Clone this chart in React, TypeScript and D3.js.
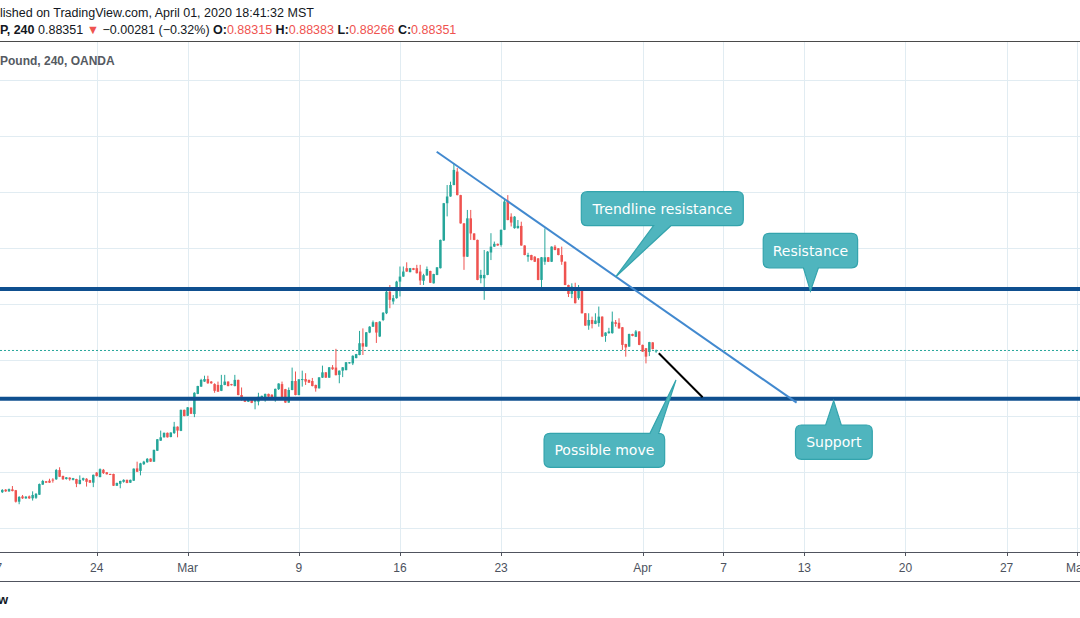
import React from "react";
import * as d3 from "d3";

// ---- Data (EUR/GBP 4h candles) ----
const opens = [
  0.8329, 0.8338, 0.8332, 0.8339, 0.8336, 0.8295, 0.8314, 0.8307, 0.8314, 0.8307,
  0.8309, 0.8320, 0.8356, 0.8368, 0.8370, 0.8374, 0.8375, 0.8408, 0.8387, 0.8376,
  0.8381, 0.8373, 0.8376, 0.8358, 0.8373, 0.8377, 0.8372, 0.8363, 0.8399, 0.8383,
  0.8409, 0.8400, 0.8394, 0.8394, 0.8352, 0.8359, 0.8366, 0.8373, 0.8363, 0.8370,
  0.8414, 0.8405, 0.8429, 0.8436, 0.8449, 0.8438, 0.8477, 0.8513, 0.8525, 0.8541,
  0.8526, 0.8540, 0.8563, 0.8548, 0.8623, 0.8602, 0.8631, 0.8608, 0.8680, 0.8706,
  0.8724, 0.8733, 0.8724, 0.8715, 0.8712, 0.8691, 0.8712, 0.8724, 0.8715, 0.8708,
  0.8730, 0.8676, 0.8667, 0.8652, 0.8662, 0.8652, 0.8652, 0.8662, 0.8668, 0.8680,
  0.8677, 0.8669, 0.8697, 0.8715, 0.8697, 0.8649, 0.8694, 0.8726, 0.8676, 0.8730,
  0.8733, 0.8730, 0.8726, 0.8712, 0.8700, 0.8738, 0.8757, 0.8738, 0.8775, 0.8774,
  0.8748, 0.8763, 0.8765, 0.8789, 0.8789, 0.8808, 0.8819, 0.8861, 0.8849, 0.8899,
  0.8920, 0.8936, 0.8885, 0.8944, 0.8968, 0.9045, 0.9010, 0.9022, 0.9081, 0.9099,
  0.9129, 0.9115, 0.9129, 0.9129, 0.9117, 0.9084, 0.9103, 0.9119, 0.9075, 0.9105,
  0.9129, 0.9228, 0.9361, 0.9385, 0.9426, 0.9474, 0.9390, 0.9289, 0.9170, 0.9307,
  0.9253, 0.9230, 0.9093, 0.9093, 0.9105, 0.9185, 0.9206, 0.9216, 0.9212, 0.9266,
  0.9370, 0.9313, 0.9272, 0.9272, 0.9280, 0.9210, 0.9170, 0.9176, 0.9170, 0.9164,
  0.9087, 0.9152, 0.9168, 0.9152, 0.9206, 0.9200, 0.9176, 0.9152, 0.9069, 0.9037,
  0.9057, 0.9022, 0.9055, 0.8968, 0.8924, 0.8944, 0.8930, 0.8933, 0.8956, 0.8887,
  0.8897, 0.8897, 0.8936, 0.8934, 0.8918, 0.8858, 0.8849, 0.8894, 0.8884, 0.8903,
  0.8855, 0.8843, 0.8830, 0.8864, 0.88315,
];
const highs = [
  0.8340, 0.8340, 0.8342, 0.8351, 0.8337, 0.8315, 0.8319, 0.8315, 0.8317, 0.8332,
  0.8326, 0.8360, 0.8373, 0.8369, 0.8377, 0.8379, 0.8412, 0.8418, 0.8388, 0.8383,
  0.8382, 0.8380, 0.8377, 0.8389, 0.8381, 0.8379, 0.8373, 0.8392, 0.8401, 0.8414,
  0.8412, 0.8401, 0.8395, 0.8395, 0.8363, 0.8370, 0.8375, 0.8374, 0.8374, 0.8414,
  0.8438, 0.8434, 0.8441, 0.8451, 0.8450, 0.8481, 0.8519, 0.8549, 0.8542, 0.8542,
  0.8543, 0.8580, 0.8564, 0.8624, 0.8624, 0.8633, 0.8632, 0.8686, 0.8709, 0.8734,
  0.8745, 0.8745, 0.8726, 0.8718, 0.8724, 0.8748, 0.8748, 0.8725, 0.8716, 0.8748,
  0.8731, 0.8703, 0.8668, 0.8663, 0.8663, 0.8661, 0.8684, 0.8674, 0.8681, 0.8681,
  0.8679, 0.8699, 0.8718, 0.8724, 0.8698, 0.8703, 0.8774, 0.8760, 0.8733, 0.8763,
  0.8754, 0.8731, 0.8737, 0.8713, 0.8740, 0.8781, 0.8758, 0.8776, 0.8783, 0.8841,
  0.8764, 0.8776, 0.8794, 0.8794, 0.8818, 0.8823, 0.8905, 0.8914, 0.8901, 0.8922,
  0.8942, 0.8937, 0.8940, 0.8972, 0.9048, 0.9069, 0.9033, 0.9084, 0.9135, 0.9135,
  0.9150, 0.9130, 0.9130, 0.9141, 0.9141, 0.9109, 0.9135, 0.9120, 0.9109, 0.9133,
  0.9231, 0.9362, 0.9426, 0.9438, 0.9504, 0.9487, 0.9391, 0.9290, 0.9337, 0.9337,
  0.9254, 0.9231, 0.9123, 0.9194, 0.9190, 0.9254, 0.9224, 0.9217, 0.9267, 0.9379,
  0.9390, 0.9325, 0.9315, 0.9301, 0.9295, 0.9211, 0.9184, 0.9177, 0.9172, 0.9165,
  0.9169, 0.9271, 0.9169, 0.9207, 0.9212, 0.9201, 0.9206, 0.9153, 0.9070, 0.9075,
  0.9077, 0.9069, 0.9056, 0.8969, 0.8968, 0.8956, 0.8968, 0.8992, 0.8957, 0.8900,
  0.8916, 0.8974, 0.8944, 0.8950, 0.8919, 0.8859, 0.8895, 0.8895, 0.8908, 0.8904,
  0.8856, 0.8844, 0.8866, 0.8865, 0.88383,
];
const lows = [
  0.8326, 0.8330, 0.8330, 0.8332, 0.8292, 0.8286, 0.8305, 0.8305, 0.8305, 0.8299,
  0.8305, 0.8319, 0.8355, 0.8362, 0.8362, 0.8363, 0.8373, 0.8383, 0.8373, 0.8374,
  0.8370, 0.8371, 0.8347, 0.8357, 0.8369, 0.8349, 0.8362, 0.8347, 0.8385, 0.8382,
  0.8394, 0.8392, 0.8391, 0.8351, 0.8351, 0.8343, 0.8363, 0.8361, 0.8362, 0.8369,
  0.8401, 0.8389, 0.8426, 0.8434, 0.8437, 0.8437, 0.8476, 0.8512, 0.8524, 0.8524,
  0.8525, 0.8537, 0.8525, 0.8547, 0.8600, 0.8601, 0.8608, 0.8597, 0.8679, 0.8705,
  0.8723, 0.8716, 0.8716, 0.8684, 0.8687, 0.8690, 0.8711, 0.8707, 0.8710, 0.8707,
  0.8675, 0.8656, 0.8651, 0.8651, 0.8647, 0.8625, 0.8639, 0.8661, 0.8652, 0.8669,
  0.8667, 0.8652, 0.8694, 0.8668, 0.8648, 0.8648, 0.8693, 0.8675, 0.8675, 0.8706,
  0.8712, 0.8719, 0.8707, 0.8688, 0.8699, 0.8737, 0.8737, 0.8737, 0.8766, 0.8746,
  0.8718, 0.8740, 0.8764, 0.8788, 0.8783, 0.8807, 0.8818, 0.8819, 0.8848, 0.8897,
  0.8919, 0.8862, 0.8883, 0.8940, 0.8965, 0.8986, 0.9000, 0.9020, 0.9028, 0.9098,
  0.9116, 0.9114, 0.9122, 0.9110, 0.9069, 0.9069, 0.9102, 0.9076, 0.9074, 0.9104,
  0.9128, 0.9226, 0.9314, 0.9384, 0.9425, 0.9389, 0.9288, 0.9123, 0.9169, 0.9230,
  0.9229, 0.9086, 0.9075, 0.9016, 0.9104, 0.9158, 0.9205, 0.9209, 0.9206, 0.9265,
  0.9300, 0.9278, 0.9270, 0.9270, 0.9209, 0.9175, 0.9152, 0.9157, 0.9151, 0.9086,
  0.9058, 0.9141, 0.9151, 0.9151, 0.9193, 0.9175, 0.9141, 0.9068, 0.9026, 0.9022,
  0.9003, 0.9016, 0.8967, 0.8923, 0.8909, 0.8914, 0.8929, 0.8920, 0.8883, 0.8866,
  0.8895, 0.8895, 0.8920, 0.8913, 0.8837, 0.8813, 0.8848, 0.8886, 0.8883, 0.8854,
  0.8830, 0.8789, 0.8815, 0.8839, 0.88266,
];
const closes = [
  0.8337, 0.8332, 0.8340, 0.8333, 0.8295, 0.8312, 0.8307, 0.8313, 0.8307, 0.8319,
  0.8323, 0.8358, 0.8369, 0.8363, 0.8363, 0.8371, 0.8408, 0.8384, 0.8375, 0.8382,
  0.8375, 0.8379, 0.8359, 0.8373, 0.8379, 0.8366, 0.8363, 0.8391, 0.8387, 0.8411,
  0.8397, 0.8393, 0.8392, 0.8352, 0.8362, 0.8369, 0.8373, 0.8362, 0.8373, 0.8413,
  0.8402, 0.8432, 0.8438, 0.8448, 0.8438, 0.8480, 0.8518, 0.8525, 0.8541, 0.8525,
  0.8542, 0.8563, 0.8549, 0.8623, 0.8601, 0.8632, 0.8609, 0.8684, 0.8708, 0.8730,
  0.8733, 0.8718, 0.8718, 0.8691, 0.8688, 0.8712, 0.8724, 0.8708, 0.8711, 0.8730,
  0.8676, 0.8662, 0.8652, 0.8662, 0.8648, 0.8659, 0.8670, 0.8673, 0.8680, 0.8670,
  0.8668, 0.8698, 0.8717, 0.8669, 0.8649, 0.8694, 0.8726, 0.8676, 0.8732, 0.8733,
  0.8724, 0.8720, 0.8708, 0.8700, 0.8739, 0.8757, 0.8738, 0.8775, 0.8768, 0.8747,
  0.8763, 0.8775, 0.8793, 0.8793, 0.8816, 0.8822, 0.8861, 0.8849, 0.8900, 0.8920,
  0.8936, 0.8899, 0.8938, 0.8970, 0.9045, 0.9016, 0.9022, 0.9081, 0.9099, 0.9117,
  0.9117, 0.9129, 0.9123, 0.9111, 0.9085, 0.9104, 0.9126, 0.9077, 0.9108, 0.9132,
  0.9230, 0.9361, 0.9385, 0.9426, 0.9480, 0.9390, 0.9289, 0.9170, 0.9307, 0.9253,
  0.9230, 0.9087, 0.9105, 0.9105, 0.9188, 0.9206, 0.9216, 0.9210, 0.9266, 0.9367,
  0.9301, 0.9292, 0.9313, 0.9280, 0.9210, 0.9176, 0.9176, 0.9158, 0.9152, 0.9087,
  0.9168, 0.9168, 0.9152, 0.9206, 0.9194, 0.9176, 0.9152, 0.9069, 0.9037, 0.9063,
  0.9004, 0.9057, 0.8968, 0.8924, 0.8944, 0.8930, 0.8942, 0.8956, 0.8885, 0.8899,
  0.8903, 0.8938, 0.8930, 0.8914, 0.8855, 0.8846, 0.8894, 0.8887, 0.8903, 0.8855,
  0.8831, 0.8813, 0.8865, 0.8840, 0.88351,
];

const timeTickLabels = ["17", "24", "Mar", "9", "16", "23", "Apr", "7", "13", "20", "27", "May"];
const timeTickBars = [-2, 28, 55, 88, 118, 148, 190, 214, 238, 268, 298, 319];
const gridPrices = [0.82, 0.84, 0.86, 0.88, 0.9, 0.92, 0.94, 0.96, 0.98];
const levelPrices = [0.90546, 0.86625];
const lastClose = 0.88351;
const trendBars = [128.9, 235.7];
const trendPrices = [0.95447, 0.86487];
const moveBars = [194.8, 207.8];
const movePrices = [0.8825, 0.86679];
const calloutTexts = ["Trendline resistance", "Resistance", "Possible move", "Support"];
const calloutBars = [182.05, 239.8, 199.9, 246.7];
const calloutPrices = [0.90985, 0.9047, 0.87297, 0.86558];

// ---- Styles / layout ----
const W = 1080;
const H = 618;
const TOP = 42;
const BOTTOM = 552;
const UP = "#26a69a";
const DOWN = "#ef5350";
const GRID = "#e1ecf2";
const LEVEL = "#0f4f8f";
const CALLOUT_FILL = "#4fb5be";
const CALLOUT_STROKE = "#33a4ad";

// callout box geometry relative to pointer tip (px)
const calloutLayout = [
  { dx: -34.5, dy: -85, w: 162, h: 34, side: "bottom", b1: 37.8, b2: 55.1 },
  { dx: -47.2, dy: -57.7, w: 94.4, h: 34.4, side: "bottom", b1: -7, b2: 8 },
  { dx: -131.9, dy: 53.3, w: 120.6, h: 34, side: "top", b1: -26, b2: -17.3 },
  { dx: -38.2, dy: 24.3, w: 76.8, h: 34.3, side: "top", b1: -8, b2: 7.6 },
];

function calloutPath(
  bx: number, by: number, w: number, h: number, r: number,
  side: string, p1: number, p2: number, tx: number, ty: number
) {
  const p = d3.path();
  p.moveTo(bx + r, by);
  if (side === "top") {
    p.lineTo(p1, by);
    p.lineTo(tx, ty);
    p.lineTo(p2, by);
  }
  p.lineTo(bx + w - r, by);
  p.quadraticCurveTo(bx + w, by, bx + w, by + r);
  p.lineTo(bx + w, by + h - r);
  p.quadraticCurveTo(bx + w, by + h, bx + w - r, by + h);
  if (side === "bottom") {
    p.lineTo(p2, by + h);
    p.lineTo(tx, ty);
    p.lineTo(p1, by + h);
  }
  p.lineTo(bx + r, by + h);
  p.quadraticCurveTo(bx, by + h, bx, by + h - r);
  p.lineTo(bx, by + r);
  p.quadraticCurveTo(bx, by, bx + r, by);
  p.closePath();
  return p.toString();
}

export default function App() {
  const x = d3.scaleLinear().domain([0, 319]).range([2.3, 2.3 + 319 * 3.37]);
  const y = d3.scaleLinear().domain([0.82, 0.98]).range([528.3, 80.3]);
  const bodyW = 2.5;

  const headerFont = "'Liberation Sans', Arial, sans-serif";
  const line = d3.line<[number, number]>().x((d) => x(d[0])).y((d) => y(d[1]));

  return (
    <div style={{ position: "fixed", left: 0, top: 0, width: W, height: H, background: "#fff" }}>
      <svg width={W} height={H} style={{ display: "block" }}>
        <rect x={0} y={0} width={W} height={H} fill="#ffffff" />

        {/* header */}
        <text x={0} y={16.5} fontFamily={headerFont} fontSize={12.5} fill="#131722">
          lished on TradingView.com, April 01, 2020 18:41:32 MST
        </text>
        <text x={0} y={34} fontFamily={headerFont} fontSize={12.5} fill="#131722">
          <tspan fontWeight="bold">P, 240</tspan>
          <tspan> 0.88351 </tspan>
          <tspan fill={DOWN}>▼</tspan>
          <tspan> −0.00281 (−0.32%) </tspan>
          <tspan fontWeight="bold">O:</tspan>
          <tspan fill={DOWN}>0.88315</tspan>
          <tspan fontWeight="bold"> H:</tspan>
          <tspan fill={DOWN}>0.88383</tspan>
          <tspan fontWeight="bold"> L:</tspan>
          <tspan fill={DOWN}>0.88266</tspan>
          <tspan fontWeight="bold"> C:</tspan>
          <tspan fill={DOWN}>0.88351</tspan>
        </text>
        <line x1={0} x2={W} y1={41.5} y2={41.5} stroke="#4a4a4a" strokeWidth={1} />

        {/* grid */}
        <g shapeRendering="crispEdges">
          {gridPrices.map((p) => (
            <line key={"h" + p} x1={0} x2={W} y1={Math.round(y(p)) + 0.5} y2={Math.round(y(p)) + 0.5} stroke={GRID} />
          ))}
          {timeTickBars.map((b, i) => (
            <line key={"v" + i} x1={Math.round(x(b)) + 0.5} x2={Math.round(x(b)) + 0.5} y1={TOP} y2={BOTTOM} stroke={GRID} />
          ))}
        </g>

        {/* symbol title */}
        <text x={0} y={65} fontFamily={headerFont} fontSize={12} fontWeight="bold" fill="#555a62">
          Pound, 240, OANDA
        </text>

        {/* last price dotted line */}
        <line x1={0} x2={W} y1={y(lastClose)} y2={y(lastClose)} stroke={UP} strokeWidth={1} strokeDasharray="2 2" />

        {/* candles */}
        <g>
          {opens.map((o, i) => {
            const c = closes[i];
            const col = c >= o ? UP : DOWN;
            const cx = x(i);
            const top = y(Math.max(o, c));
            const bot = y(Math.min(o, c));
            return (
              <g key={i}>
                <rect x={cx - 0.5} y={y(highs[i])} width={1} height={Math.max(1, y(lows[i]) - y(highs[i]))} fill={col} />
                <rect x={cx - bodyW / 2} y={top} width={bodyW} height={Math.max(1, bot - top)} fill={col} />
              </g>
            );
          })}
        </g>

        {/* horizontal levels */}
        {levelPrices.map((p, i) => (
          <line key={"lv" + i} x1={0} x2={W} y1={y(p)} y2={y(p)} stroke={LEVEL} strokeWidth={4} />
        ))}

        {/* trendline */}
        <path
          d={line([[trendBars[0], trendPrices[0]], [trendBars[1], trendPrices[1]]]) || ""}
          stroke="#4289cf"
          strokeWidth={2}
          fill="none"
        />

        {/* possible move */}
        <path
          d={line([[moveBars[0], movePrices[0]], [moveBars[1], movePrices[1]]]) || ""}
          stroke="#000000"
          strokeWidth={2}
          fill="none"
        />

        {/* callouts */}
        {calloutTexts.map((t, i) => {
          const L = calloutLayout[i];
          const tx = x(calloutBars[i]);
          const ty = y(calloutPrices[i]);
          const bx = tx + L.dx;
          const by = ty + L.dy;
          return (
            <g key={"co" + i}>
              <path
                d={calloutPath(bx, by, L.w, L.h, 6, L.side, tx + L.b1, tx + L.b2, tx, ty)}
                fill={CALLOUT_FILL}
                stroke={CALLOUT_STROKE}
                strokeWidth={1.2}
              />
              <text
                x={bx + L.w / 2}
                y={by + L.h / 2 + 5}
                textAnchor="middle"
                fontFamily="'DejaVu Sans', Verdana, sans-serif"
                fontSize={14}
                fill="#ffffff"
              >
                {t}
              </text>
            </g>
          );
        })}

        {/* time axis */}
        <line x1={0} x2={W} y1={552.5} y2={552.5} stroke="#50535e" strokeWidth={1} shapeRendering="crispEdges" />
        {timeTickBars.map((b, i) => (
          <g key={"t" + i}>
            <line x1={Math.round(x(b)) + 0.5} x2={Math.round(x(b)) + 0.5} y1={552} y2={556} stroke="#50535e" shapeRendering="crispEdges" />
            <text x={x(b)} y={572} textAnchor="middle" fontFamily={headerFont} fontSize={12} fill="#4c525e">
              {timeTickLabels[i]}
            </text>
          </g>
        ))}
        <line x1={0} x2={W} y1={581.5} y2={581.5} stroke="#50535e" strokeWidth={1} shapeRendering="crispEdges" />
        <text x={8} y={604} textAnchor="end" fontFamily={headerFont} fontSize={13} fontWeight="bold" fill="#131722">
          TradingView
        </text>
      </svg>
    </div>
  );
}
